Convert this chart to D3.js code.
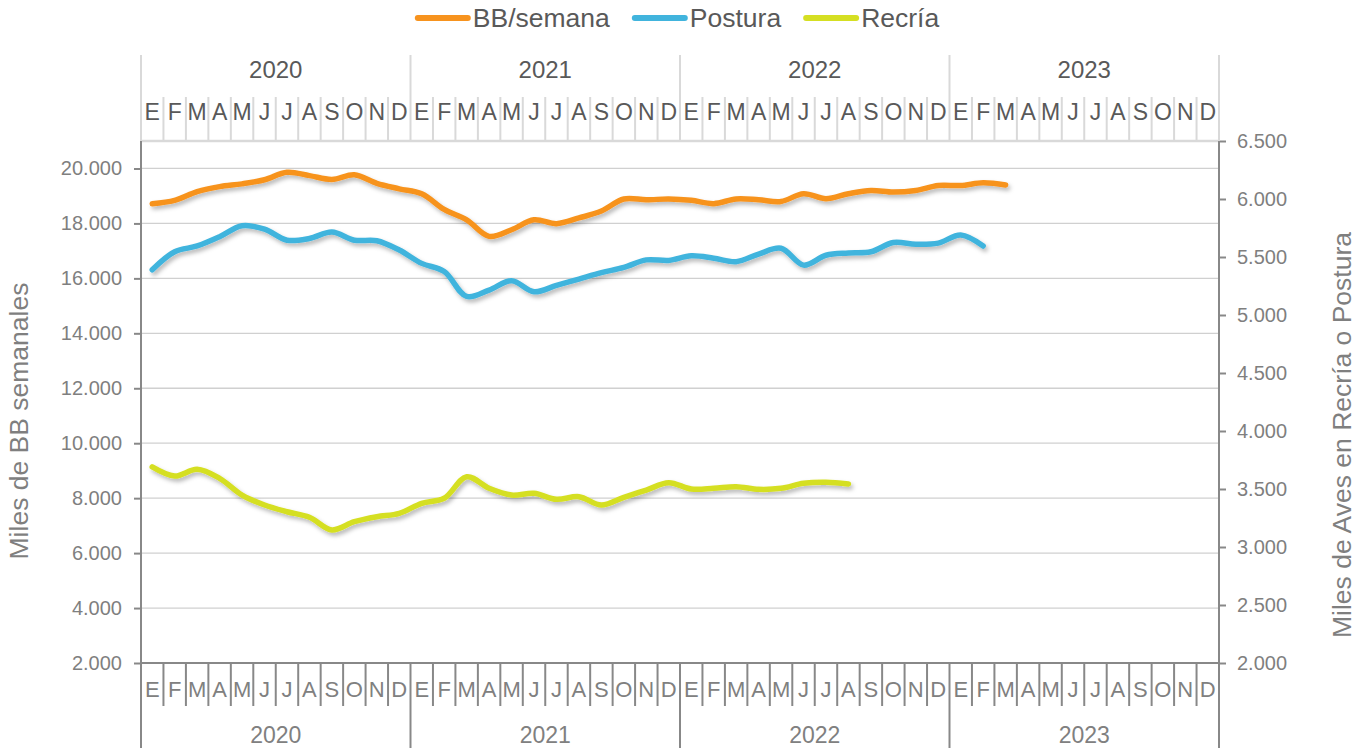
<!DOCTYPE html>
<html>
<head>
<meta charset="utf-8">
<script src="https://cdn.jsdelivr.net/npm/d3@7"></script>
<style>
  body { margin: 0; background: #fff; }
  svg text { font-family: "Liberation Sans", Arial, sans-serif; }
</style>
</head>
<body>
<script>
// datos: meses y años
var years = ["2020", "2021", "2022", "2023"];
var monthLetters = ["E","F","M","A","M","J","J","A","S","O","N","D"];

// series (miles), desde enero 2020
var bbSemana = [18720,18840,19160,19340,19440,19590,19860,19740,19600,19770,19460,19260,
                19080,18510,18130,17530,17770,18130,17990,18200,18450,18890,18860,18890,
                18840,18720,18890,18860,18800,19080,18900,19080,19200,19140,19200,19380,
                19380,19480,19400];
var postura = [5390,5545,5595,5675,5770,5740,5645,5660,5715,5645,5640,5560,
               5445,5375,5160,5215,5295,5200,5255,5310,5365,5410,5475,5470,
               5510,5490,5460,5525,5575,5430,5515,5535,5545,5625,5610,5620,
               5690,5595];
var recria = [3690,3612,3670,3592,3448,3362,3304,3256,3147,3218,3261,3290,
              3377,3420,3606,3506,3448,3463,3411,3434,3362,3428,3491,3554,
              3500,3506,3520,3497,3506,3549,3558,3543];

var leftTicks = [2000,4000,6000,8000,10000,12000,14000,16000,18000,20000];
var rightTicks = [2000,2500,3000,3500,4000,4500,5000,5500,6000,6500];

var seriesInfo = [
  {name: "BB/semana", values: bbSemana, axis: "left", color: "#F7931E"},
  {name: "Postura", values: postura, axis: "right", color: "#41B4DD"},
  {name: "Recría", values: recria, axis: "right", color: "#D5DF22"}
];

var width = 1372, height = 753;
var plotL = 141, plotR = 1219, plotT = 141, plotB = 663;

var svg = d3.select("body").append("svg")
    .attr("width", width)
    .attr("height", height);

var defs = svg.append("defs");
defs.append("filter")
    .attr("id", "sombra")
    .attr("x", "-5%").attr("y", "-20%")
    .attr("width", "110%").attr("height", "140%")
  .append("feDropShadow")
    .attr("dx", 2).attr("dy", 3)
    .attr("stdDeviation", 2)
    .attr("flood-color", "#000")
    .attr("flood-opacity", 0.28);

// lista de todos los meses
var months = [];
years.forEach(function(y) {
  monthLetters.forEach(function(m, j) { months.push({key: y + "-" + j, year: y, letter: m}); });
});

var x = d3.scaleBand()
    .domain(months.map(function(d) { return d.key; }))
    .range([plotL, plotR]);
var bw = x.bandwidth();

var yL = d3.scaleLinear().domain([2000, 21000]).range([plotB, plotT]);
var yR = d3.scaleLinear().domain([2000, 6500]).range([plotB, plotT]);

var fmt = d3.formatLocale({decimal: ",", thousands: ".", grouping: [3], currency: ["", ""]}).format(",.0f");

// grid
svg.append("g").selectAll("line")
    .data(leftTicks.slice(1))
    .enter().append("line")
    .attr("x1", plotL).attr("x2", plotR)
    .attr("y1", function(d) { return yL(d); })
    .attr("y2", function(d) { return yL(d); })
    .attr("stroke", "#d0d0d0")
    .attr("stroke-width", 1.3);

// borde superior
svg.append("line")
    .attr("x1", plotL).attr("x2", plotR)
    .attr("y1", plotT).attr("y2", plotT)
    .attr("stroke", "#d9d9d9").attr("stroke-width", 2.5);

// eje izquierdo
var axL = svg.append("g")
    .attr("transform", "translate(" + plotL + ",0)")
    .call(d3.axisLeft(yL).tickValues(leftTicks).tickFormat(fmt).tickSize(7).tickPadding(12));
axL.select(".domain").remove();
axL.selectAll(".tick line").attr("stroke", "#888").attr("stroke-width", 2);
axL.selectAll(".tick text").attr("fill", "#7f7f7f").style("font-size", "20px");

// eje derecho
var axR = svg.append("g")
    .attr("transform", "translate(" + plotR + ",0)")
    .call(d3.axisRight(yR).tickValues(rightTicks).tickFormat(fmt).tickSize(7).tickPadding(11));
axR.select(".domain").remove();
axR.selectAll(".tick line").attr("stroke", "#888").attr("stroke-width", 2);
axR.selectAll(".tick text").attr("fill", "#7f7f7f").style("font-size", "20px");

// eje de meses arriba
var topAx = svg.append("g");
topAx.selectAll("line.mes")
    .data(months.concat([{key: "end"}]))
    .enter().append("line")
    .attr("class", "mes")
    .attr("x1", function(d, i) { return plotL + i * bw; })
    .attr("x2", function(d, i) { return plotL + i * bw; })
    .attr("y1", function(d, i) { return i % 12 == 0 ? 55 : 97; })
    .attr("y2", plotT)
    .attr("stroke", "#d9d9d9")
    .attr("stroke-width", 2);
topAx.selectAll("text.mes")
    .data(months)
    .enter().append("text")
    .attr("class", "mes")
    .attr("x", function(d) { return x(d.key) + bw / 2; })
    .attr("y", 120)
    .attr("text-anchor", "middle")
    .attr("fill", "#595959")
    .style("font-size", "23px")
    .text(function(d) { return d.letter; });
topAx.selectAll("text.anio")
    .data(years)
    .enter().append("text")
    .attr("class", "anio")
    .attr("x", function(d, i) { return plotL + (i * 12 + 6) * bw; })
    .attr("y", 78)
    .attr("text-anchor", "middle")
    .attr("fill", "#595959")
    .style("font-size", "24px")
    .text(function(d) { return d; });

// eje de meses abajo
var botAx = svg.append("g");
botAx.selectAll("line.mes")
    .data(months.concat([{key: "end"}]))
    .enter().append("line")
    .attr("class", "mes")
    .attr("x1", function(d, i) { return plotL + i * bw; })
    .attr("x2", function(d, i) { return plotL + i * bw; })
    .attr("y1", plotB)
    .attr("y2", function(d, i) { return i % 12 == 0 ? 748 : 706; })
    .attr("stroke", "#888")
    .attr("stroke-width", 2);
botAx.selectAll("text.mes")
    .data(months)
    .enter().append("text")
    .attr("class", "mes")
    .attr("x", function(d) { return x(d.key) + bw / 2; })
    .attr("y", 697)
    .attr("text-anchor", "middle")
    .attr("fill", "#808080")
    .style("font-size", "22px")
    .text(function(d) { return d.letter; });
botAx.selectAll("text.anio")
    .data(years)
    .enter().append("text")
    .attr("class", "anio")
    .attr("x", function(d, i) { return plotL + (i * 12 + 6) * bw; })
    .attr("y", 743)
    .attr("text-anchor", "middle")
    .attr("fill", "#808080")
    .style("font-size", "23px")
    .text(function(d) { return d; });

// linea base y laterales
svg.append("line")
    .attr("x1", plotL).attr("x2", plotR)
    .attr("y1", plotB).attr("y2", plotB)
    .attr("stroke", "#888").attr("stroke-width", 2);
svg.append("line")
    .attr("x1", plotL).attr("x2", plotL)
    .attr("y1", plotT).attr("y2", 748)
    .attr("stroke", "#888").attr("stroke-width", 2);
svg.append("line")
    .attr("x1", plotR).attr("x2", plotR)
    .attr("y1", plotT).attr("y2", 748)
    .attr("stroke", "#888").attr("stroke-width", 2);

// titulos de ejes
svg.append("text")
    .attr("transform", "translate(28,421)rotate(-90)")
    .attr("text-anchor", "middle")
    .attr("fill", "#7f7f7f")
    .style("font-size", "26.5px")
    .text("Miles de BB semanales");
svg.append("text")
    .attr("transform", "translate(1351,435)rotate(-90)")
    .attr("text-anchor", "middle")
    .attr("fill", "#7f7f7f")
    .style("font-size", "26.5px")
    .text("Miles de Aves en Recría o Postura");

// series
var lineas = svg.append("g").attr("filter", "url(#sombra)");
seriesInfo.forEach(function(s) {
  var yScale = s.axis == "left" ? yL : yR;
  var line = d3.line()
      .curve(d3.curveCatmullRom.alpha(0.5))
      .x(function(d, i) { return x(months[i].key) + bw / 2; })
      .y(function(d) { return yScale(d); });
  lineas.append("path")
      .datum(s.values)
      .attr("d", line)
      .attr("fill", "none")
      .attr("stroke", s.color)
      .attr("stroke-width", 5.5)
      .attr("stroke-linecap", "round")
      .attr("stroke-linejoin", "round");
});

// leyenda
var leg = svg.append("g");
var posX = 0;
seriesInfo.forEach(function(s, i) {
  var g = leg.append("g").attr("transform", "translate(" + posX + ",0)");
  g.append("line")
      .attr("x1", 3).attr("x2", 53)
      .attr("y1", 18).attr("y2", 18)
      .attr("stroke", s.color)
      .attr("stroke-width", 6)
      .attr("stroke-linecap", "round");
  var t = g.append("text")
      .attr("x", 58).attr("y", 27)
      .attr("fill", "#595959")
      .style("font-size", "26.5px")
      .text(s.name);
  posX += 58 + t.node().getComputedTextLength() + 22;
});
var legW = posX - 22;
leg.attr("transform", "translate(" + (677 - legW / 2) + ",0)");
</script>
</body>
</html>
